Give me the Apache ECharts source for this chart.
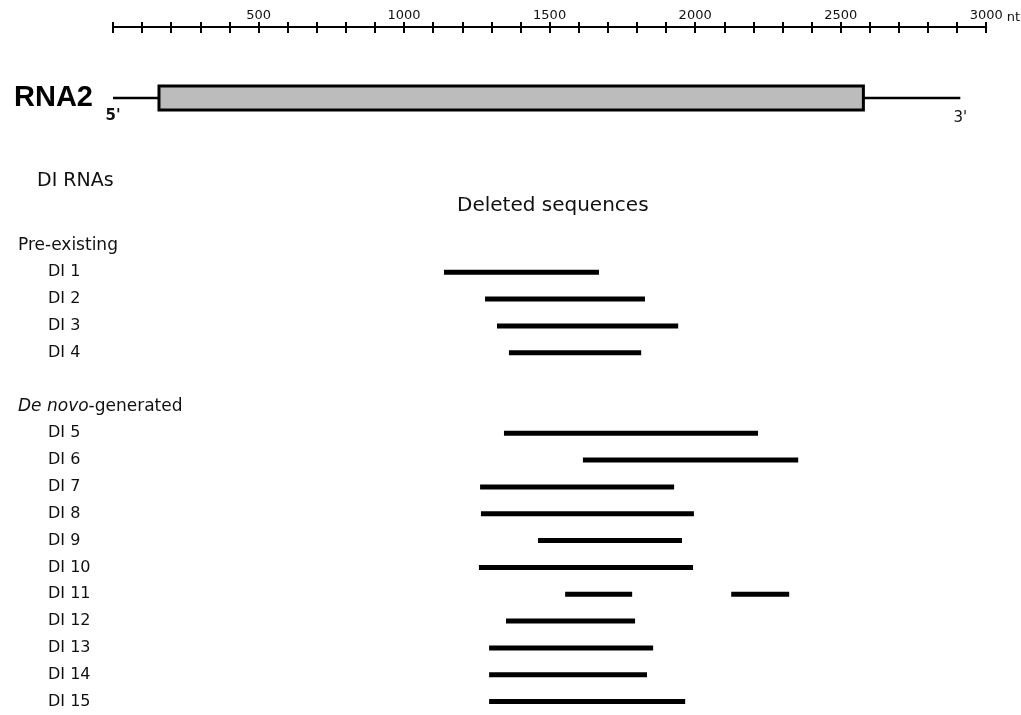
<!DOCTYPE html>
<html>
<head>
<meta charset="utf-8">
<script src="https://cdn.jsdelivr.net/npm/echarts@6/dist/echarts.min.js"></script>
<style>
  html, body { margin: 0; padding: 0; background: #fff; }
  #chart { width: 1021px; height: 715px; }
</style>
</head>
<body>
<div id="chart"></div>
<script>
// RNA2 map (nt)
const rna2Ends = [0, 2911];
const rna2Orf = [158, 2578];

// rows of the DI list, top to bottom ('' = spacer row)
const rowLabels = ['Pre-existing', 'DI 1', 'DI 2', 'DI 3', 'DI 4', '', 'De novo-generated',
  'DI 5', 'DI 6', 'DI 7', 'DI 8', 'DI 9', 'DI 10', 'DI 11', 'DI 12', 'DI 13', 'DI 14', 'DI 15'];
const headerRows = ['Pre-existing', 'De novo-generated'];

// deleted sequences, one entry per segment (DI 11 has two)
const segDI = ['DI 1', 'DI 2', 'DI 3', 'DI 4', 'DI 5', 'DI 6', 'DI 7', 'DI 8', 'DI 9', 'DI 10',
  'DI 11', 'DI 11', 'DI 12', 'DI 13', 'DI 14', 'DI 15'];
const segStart = [1136, 1277, 1318, 1359, 1342, 1613, 1260, 1263, 1459, 1256, 1552, 2122, 1349, 1291, 1291, 1291];
const segEnd = [1668, 1826, 1940, 1813, 2214, 2352, 1926, 1994, 1953, 1991, 1782, 2321, 1792, 1854, 1833, 1964];

const FONT = 'DejaVu Sans';

const chart = echarts.init(document.getElementById('chart'));

const segData = segDI.map((d, i) => [segStart[i], segEnd[i], rowLabels.indexOf(d)]);

const option = {
  animation: false,
  backgroundColor: '#fff',
  textStyle: { fontFamily: FONT, color: '#111' },
  grid: [
    { left: 113, width: 874, top: 74, height: 48 },
    { left: 113, width: 874, top: 232, height: 487 }
  ],
  xAxis: [
    {
      // scale bar, ticks above the line + labels
      gridIndex: 0, type: 'value', position: 'top', offset: 47,
      min: 0, max: 3000, interval: 100,
      axisLine: { show: true, onZero: false, lineStyle: { color: '#000', width: 2 } },
      axisTick: { show: true, length: 5, lineStyle: { color: '#000', width: 2 } },
      splitLine: { show: false },
      axisLabel: {
        margin: 5, color: '#111', fontSize: 13, fontFamily: FONT,
        formatter: v => (v > 0 && v % 500 === 0) ? String(v) : ''
      },
      name: 'nt', nameLocation: 'end', nameGap: 16,
      nameTextStyle: { color: '#111', fontSize: 13, fontFamily: FONT, verticalAlign: 'bottom', padding: [0, 0, 3, 0] }
    },
    {
      // same scale, ticks below the line
      gridIndex: 0, type: 'value', position: 'top', offset: 47,
      min: 0, max: 3000, interval: 100,
      axisLine: { show: false },
      axisTick: { show: true, inside: true, length: 6, lineStyle: { color: '#000', width: 2 } },
      axisLabel: { show: false },
      splitLine: { show: false }
    },
    { gridIndex: 1, type: 'value', min: 0, max: 3000, show: false }
  ],
  yAxis: [
    {
      gridIndex: 0, type: 'category', data: ['RNA2'],
      axisLine: { show: false }, axisTick: { show: false },
      axisLabel: { margin: 20, color: '#000', fontSize: 29, fontWeight: 'bold', fontFamily: 'Liberation Sans' }
    },
    {
      gridIndex: 1, type: 'category', data: rowLabels, inverse: true,
      axisLine: { show: false }, axisTick: { show: false },
      axisLabel: {
        margin: 95, align: 'left', interval: 0,
        formatter: v => {
          if (v === 'De novo-generated') return '{hi|De novo}{h|-generated}';
          if (headerRows.includes(v)) return '{h|' + v + '}';
          return v ? '{d|' + v + '}' : '';
        },
        rich: {
          h: { fontSize: 17, fontFamily: FONT, color: '#111' },
          hi: { fontSize: 17, fontFamily: FONT, fontStyle: 'italic', color: '#111' },
          d: { fontSize: 16, fontFamily: FONT, color: '#111', padding: [0, 0, 0, 30] }
        }
      }
    }
  ],
  graphic: [
    { type: 'text', left: 37, top: 172, style: { text: 'DI RNAs', font: '19px "DejaVu Sans"', fill: '#111' } },
    { type: 'text', left: 457, top: 196, style: { text: 'Deleted sequences', font: '20px "DejaVu Sans"', fill: '#111' } }
  ],
  series: [
    {
      name: 'RNA2', type: 'custom', xAxisIndex: 0, yAxisIndex: 0,
      data: [[rna2Ends[0], rna2Ends[1], rna2Orf[0], rna2Orf[1], 0]],
      encode: { x: [0, 1, 2, 3], y: 4 },
      renderItem: (params, api) => {
        const a = api.coord([api.value(0), 0]);
        const b = api.coord([api.value(1), 0]);
        const c = api.coord([api.value(2), 0]);
        const d = api.coord([api.value(3), 0]);
        return {
          type: 'group',
          children: [
            { type: 'line', shape: { x1: a[0], y1: a[1], x2: b[0], y2: b[1] }, style: { stroke: '#000', lineWidth: 2.5 } },
            { type: 'rect', shape: { x: c[0], y: a[1] - 12, width: d[0] - c[0], height: 24 },
              style: { fill: '#bcbcbc', stroke: '#000', lineWidth: 3 } },
            { type: 'text', x: a[0], y: a[1] + 18,
              style: { text: "5'", font: 'bold 15px "DejaVu Sans"', fill: '#111', align: 'center', verticalAlign: 'middle' } },
            { type: 'text', x: b[0], y: b[1] + 20,
              style: { text: "3'", font: '15px "DejaVu Sans"', fill: '#111', align: 'center', verticalAlign: 'middle' } }
          ]
        };
      }
    },
    {
      name: 'Deleted sequences', type: 'custom', xAxisIndex: 2, yAxisIndex: 1,
      data: segData,
      encode: { x: [0, 1], y: 2 },
      renderItem: (params, api) => {
        const s = api.coord([api.value(0), api.value(2)]);
        const e = api.coord([api.value(1), api.value(2)]);
        return {
          type: 'rect',
          shape: { x: s[0], y: s[1] - 2.5, width: e[0] - s[0], height: 5 },
          style: { fill: '#000' }
        };
      }
    }
  ]
};

chart.setOption(option);
</script>
</body>
</html>
